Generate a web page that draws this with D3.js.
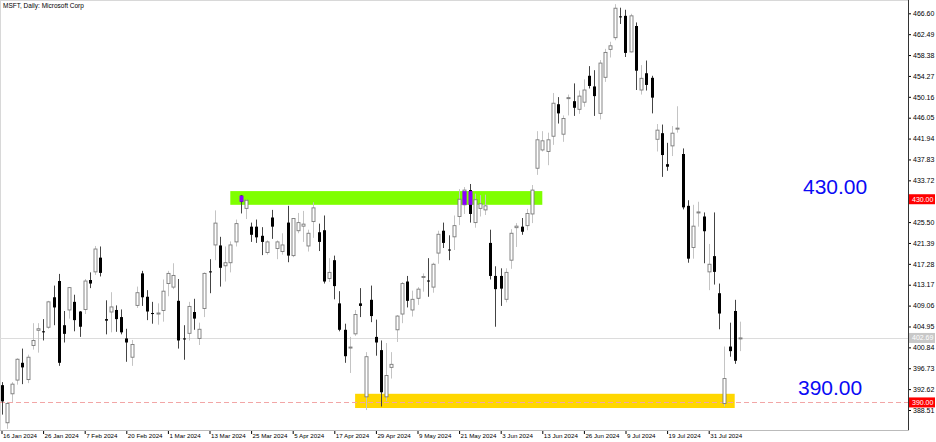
<!DOCTYPE html>
<html><head><meta charset="utf-8">
<script src="https://cdn.jsdelivr.net/npm/d3@7/dist/d3.min.js"></script>
<style>body{margin:0;background:#fff}svg{display:block}</style>
</head><body>
<svg id="chart" width="936" height="442"></svg>
<script>
// ---- data ----
const dates = ["2024-01-16","2024-01-17","2024-01-18","2024-01-19","2024-01-22","2024-01-23","2024-01-24","2024-01-25","2024-01-26","2024-01-29","2024-01-30","2024-01-31",
"2024-02-01","2024-02-02","2024-02-05","2024-02-06","2024-02-07","2024-02-08","2024-02-09","2024-02-12","2024-02-13","2024-02-14","2024-02-15","2024-02-16","2024-02-20","2024-02-21","2024-02-22","2024-02-23","2024-02-26","2024-02-27","2024-02-28","2024-02-29",
"2024-03-01","2024-03-04","2024-03-05","2024-03-06","2024-03-07","2024-03-08","2024-03-11","2024-03-12","2024-03-13","2024-03-14","2024-03-15","2024-03-18","2024-03-19","2024-03-20","2024-03-21","2024-03-22","2024-03-25","2024-03-26","2024-03-27","2024-03-28",
"2024-04-01","2024-04-02","2024-04-03","2024-04-04","2024-04-05","2024-04-08","2024-04-09","2024-04-10","2024-04-11","2024-04-12","2024-04-15","2024-04-16","2024-04-17","2024-04-18","2024-04-19","2024-04-22","2024-04-23","2024-04-24","2024-04-25","2024-04-26","2024-04-29","2024-04-30",
"2024-05-01","2024-05-02","2024-05-03","2024-05-06","2024-05-07","2024-05-08","2024-05-09","2024-05-10","2024-05-13","2024-05-14","2024-05-15","2024-05-16","2024-05-17","2024-05-20","2024-05-21","2024-05-22","2024-05-23","2024-05-24","2024-05-28","2024-05-29","2024-05-30","2024-05-31",
"2024-06-03","2024-06-04","2024-06-05","2024-06-06","2024-06-07","2024-06-10","2024-06-11","2024-06-12","2024-06-13","2024-06-14","2024-06-17","2024-06-18","2024-06-20","2024-06-21","2024-06-24","2024-06-25","2024-06-26","2024-06-27","2024-06-28",
"2024-07-01","2024-07-02","2024-07-03","2024-07-05","2024-07-08","2024-07-09","2024-07-10","2024-07-11","2024-07-12","2024-07-15","2024-07-16","2024-07-17","2024-07-18","2024-07-19","2024-07-22","2024-07-23","2024-07-24","2024-07-25","2024-07-26","2024-07-29","2024-07-30","2024-07-31",
"2024-08-01","2024-08-02","2024-08-05","2024-08-06","2024-08-07","2024-08-08"];

const opens = [393.4,386.0,391.7,394.4,397.8,394.5,401.2,404.2,404.0,404.8,410.7,413.9,
405.2,408.2,409.8,407.9,408.3,414.1,415.7,418.5,406.4,407.8,408.2,406.8,402.6,398.9,409.1,415.4,410.8,407.6,407.4,408.1,
413.4,412.7,410.0,402.6,403.6,407.8,402.6,408.5,415.8,421.0,420.9,416.9,417.5,421.6,430.7,428.2,424.6,424.6,422.8,419.5,
426.4,420.3,419.7,425.4,418.9,423.8,424.7,420.8,425.6,423.5,423.9,414.4,418.0,409.5,404.3,400.8,403.5,409.5,391.1,410.2,402.9,400.3,
391.1,396.9,404.3,407.4,413.8,408.2,410.5,414.6,414.0,412.7,419.4,423.8,420.1,422.6,426.6,428.9,431.8,425.4,428.2,427.9,421.4,414.9,
414.9,410.3,418.0,424.4,424.6,424.8,427.1,436.1,439.7,439.4,442.4,448.7,442.8,449.8,449.3,447.7,449.1,454.3,452.2,
446.9,454.0,459.5,461.8,466.0,466.1,459.0,464.1,451.5,454.8,453.9,441.8,443.0,436.9,440.5,443.8,438.9,428.7,420.5,427.3,426.6,415.7,
418.8,411.5,389.8,401.0,408.0,402.6];
const highs = [394.0,390.1,394.0,398.7,400.6,399.4,405.6,405.6,406.4,410.0,413.0,415.3,
408.0,412.7,411.2,408.0,414.3,415.6,420.8,420.7,410.1,411.7,409.1,408.3,404.5,402.3,412.8,415.9,412.1,409.8,409.5,414.2,
415.9,417.4,414.3,405.2,409.8,410.4,405.7,415.6,418.2,427.8,422.6,420.7,421.7,426.0,430.8,429.9,425.4,426.0,424.5,421.9,
427.9,421.9,423.3,428.7,426.2,427.3,427.7,424.0,429.4,425.2,426.8,418.4,418.9,411.9,405.5,402.9,408.2,412.5,399.9,413.0,406.3,402.2,
401.7,399.9,407.2,413.7,414.9,412.0,412.7,415.4,418.4,417.5,423.8,425.4,422.9,426.8,432.0,432.4,433.0,431.1,430.8,430.9,424.0,416.8,
416.4,416.4,424.1,425.3,426.3,428.1,432.8,443.4,443.4,443.1,450.9,450.1,446.5,450.6,452.8,451.4,453.6,456.2,455.4,
457.4,459.6,461.0,468.4,467.7,467.3,466.5,464.8,456.4,457.3,454.3,444.8,444.7,441.1,444.4,448.3,440.0,429.8,428.9,429.5,427.4,421.2,
427.4,413.4,401.0,405.7,410.2,405.9];
const lows = [387.6,384.8,390.1,393.5,393.6,393.8,400.4,399.8,402.2,404.5,405.2,397.2,
401.8,406.5,404.0,402.9,407.4,412.5,415.1,414.8,403.4,403.8,403.9,403.4,398.0,397.2,408.6,409.0,406.2,405.5,405.3,405.9,
410.9,412.3,400.6,398.4,402.2,404.3,401.3,406.8,411.5,418.0,412.8,413.8,415.6,420.7,427.2,426.1,421.6,421.4,419.0,419.1,
422.2,418.2,419.1,417.6,418.6,423.3,421.6,419.7,422.4,419.8,413.4,413.7,410.3,404.0,397.8,395.8,403.1,406.8,388.5,405.8,399.2,389.2,
390.3,394.7,401.9,405.6,408.7,406.9,409.2,411.8,410.8,411.6,417.3,420.4,418.0,420.0,424.9,427.1,425.4,424.4,426.6,426.9,414.2,404.9,
409.0,409.7,416.3,420.6,423.0,423.9,425.3,434.8,439.4,436.7,440.7,444.9,441.3,446.5,446.4,446.8,448.2,451.8,446.4,
445.7,453.1,457.9,461.3,464.5,458.0,458.9,451.5,450.6,451.4,446.9,439.4,434.4,435.6,438.5,443.1,428.0,417.5,418.3,424.6,417.4,412.1,
413.2,404.4,389.2,399.0,397.6,400.1];
const closes = [390.2,389.8,393.6,398.5,396.9,398.9,402.2,404.5,403.8,409.8,408.7,397.8,
403.5,412.6,406.2,404.9,413.9,413.4,420.2,415.5,406.1,408.8,406.4,403.8,401.8,401.4,411.6,410.7,407.9,407.4,407.6,411.9,
415.4,415.0,402.2,402.4,408.9,406.5,404.4,415.4,415.6,425.3,416.5,417.5,421.0,425.2,429.5,429.8,423.0,422.5,421.6,421.6,
424.6,421.6,421.0,418.9,426.2,425.4,425.1,423.3,428.3,421.6,413.8,415.6,412.9,404.3,399.1,400.9,407.3,409.0,399.0,407.0,401.8,392.0,
395.3,397.5,407.0,413.4,410.0,410.3,412.3,414.8,413.8,417.2,423.1,421.4,419.9,424.8,430.0,431.8,427.1,429.9,429.1,428.7,414.9,412.3,
412.4,415.6,423.3,424.7,423.6,427.2,431.8,441.7,441.5,441.7,448.9,446.9,445.9,450.0,448.0,450.3,451.5,452.3,450.3,
456.8,458.9,460.2,467.6,465.8,458.8,466.1,455.3,453.8,452.5,450.0,443.6,438.7,436.4,443.0,444.0,428.4,418.3,424.7,427.5,423.7,417.2,
415.7,407.5,394.7,400.1,398.2,402.7];

const highlightDates = ["2024-03-21","2024-05-22","2024-05-23"];
// 429.61 sits under the red 430.00 box in the reference, so it is not listed
const yTickValues = [466.60,462.49,458.38,454.27,450.16,446.05,441.94,437.83,433.72,425.50,421.39,417.28,413.17,409.06,404.95,400.84,396.73,392.62,388.51];
const xTickDates = ["2024-01-16","2024-01-26","2024-02-07","2024-02-20","2024-03-01","2024-03-13","2024-03-25","2024-04-05","2024-04-17","2024-04-29","2024-05-09","2024-05-21","2024-06-03","2024-06-13","2024-06-26","2024-07-09","2024-07-19","2024-07-31"];
const xTickLabels = ["16 Jan 2024","26 Jan 2024","7 Feb 2024","20 Feb 2024","1 Mar 2024","13 Mar 2024","25 Mar 2024","5 Apr 2024","17 Apr 2024","29 Apr 2024","9 May 2024","21 May 2024","3 Jun 2024","13 Jun 2024","26 Jun 2024","9 Jul 2024","19 Jul 2024","31 Jul 2024"];
const zoneNames = ["resistance","support"];
const zoneFrom = ["2024-03-19","2024-04-23"];
const zoneTo = ["2024-06-13","2024-08-07"];
const zoneHigh = [431.6,391.7];
const zoneLow = [428.9,388.9];
const levelValues = [430.00,390.00];
const levelLabels = ["430.00","390.00"];
const title = "MSFT, Daily:  Microsoft Corp";
const lastPrice = 402.69;

// ---- layout ----
const svg = d3.select("#chart");
const W = 936, H = 442, plotR = 908, plotB = 430;
const x = d3.scaleLinear().domain([0, dates.length - 1]).range([1.5, 1.5 + 5.2 * (dates.length - 1)]);
const y = d3.scaleLinear().domain([388.51, 466.60]).range([410, 13.3]);
const idx = d => dates.indexOf(d);
const font = "'Liberation Sans', Arial, sans-serif";

svg.append("rect").attr("width", W).attr("height", H).attr("fill", "#fff");

// frame
svg.append("line").attr("x1", 0.5).attr("x2", 0.5).attr("y1", 0).attr("y2", plotB).attr("stroke", "#d8d8d8");
svg.append("line").attr("x1", 0).attr("x2", plotR).attr("y1", 0.5).attr("y2", 0.5).attr("stroke", "#d8d8d8");

// zones
const zoneColors = ["#7fff00", "#ffd700"];
zoneNames.forEach((n, k) => {
  svg.append("rect").attr("class", "zone-" + n)
    .attr("x", x(idx(zoneFrom[k]))).attr("width", x(idx(zoneTo[k])) - x(idx(zoneFrom[k])))
    .attr("y", y(zoneHigh[k])).attr("height", y(zoneLow[k]) - y(zoneHigh[k]))
    .attr("fill", zoneColors[k]);
});

// last-price line and 390 dashed line
svg.append("line").attr("x1", 0).attr("x2", plotR).attr("y1", Math.round(y(lastPrice)) + 0.5).attr("y2", Math.round(y(lastPrice)) + 0.5)
  .attr("stroke", "#dcdcdc");
svg.append("line").attr("x1", 0).attr("x2", plotR).attr("y1", Math.round(y(levelValues[1])) + 0.5).attr("y2", Math.round(y(levelValues[1])) + 0.5)
  .attr("stroke", "#f2a6a6").attr("stroke-dasharray", "5,3");

// candles
const bars = dates.map((d, i) => ({d, i, o: opens[i], h: highs[i], l: lows[i], c: closes[i]}));
const bodyW = 3;
const g = svg.append("g").attr("class", "candles");
bars.forEach(b => {
  const cx = Math.round(x(b.i)) + 0.5;
  const up = b.c >= b.o;
  g.append("line").attr("x1", cx).attr("x2", cx).attr("y1", y(b.h)).attr("y2", y(b.l))
    .attr("stroke", up ? "#c4c4c4" : "#444").attr("stroke-width", 1);
  const top = y(Math.max(b.o, b.c)), bot = y(Math.min(b.o, b.c));
  const hgt = Math.max(1, bot - top);
  if (up) {
    g.append("rect").attr("x", cx - 1.5).attr("y", top).attr("width", bodyW).attr("height", hgt)
      .attr("fill", "#fff").attr("stroke", "#7a7a7a").attr("stroke-width", 0.9);
  } else {
    g.append("rect").attr("x", cx - 1.5).attr("y", top).attr("width", bodyW).attr("height", hgt).attr("fill", "#000");
  }
  if (highlightDates.includes(b.d)) {
    const zt = Math.max(top, y(zoneHigh[0])), zb = Math.min(top + hgt, y(zoneLow[0]));
    if (zb > zt) g.append("rect").attr("x", cx - 2).attr("y", zt).attr("width", 4).attr("height", zb - zt).attr("fill", "#8b00ff");
  }
});

// big level labels
svg.append("text").attr("x", 803).attr("y", y(levelValues[0]) - 5).text(levelLabels[0])
  .attr("font-family", font).attr("font-size", 21).attr("fill", "#0a0af5");
svg.append("text").attr("x", 798).attr("y", y(levelValues[1]) - 7).text(levelLabels[1])
  .attr("font-family", font).attr("font-size", 21).attr("fill", "#0a0af5");

// right axis
const yAxis = d3.axisRight(y).tickValues(yTickValues).tickSize(3).tickFormat(d3.format(".2f"));
const ya = svg.append("g").attr("transform", `translate(${plotR},0)`).call(yAxis);
ya.select(".domain").remove();
ya.selectAll("text").attr("font-family", font).attr("font-size", 7).attr("fill", "#000").attr("x", 5);
ya.selectAll(".tick line").attr("stroke", "#000");
svg.append("line").attr("x1", plotR + 0.5).attr("x2", plotR + 0.5).attr("y1", 0).attr("y2", plotB).attr("stroke", "#333");

// axis price boxes
function priceBox(v, label, bg) {
  const yy = y(v);
  svg.append("rect").attr("x", plotR + 1).attr("y", yy - 5).attr("width", 26).attr("height", 10).attr("fill", bg);
  svg.append("text").attr("x", plotR + 4).attr("y", yy + 2.5).text(label)
    .attr("font-family", font).attr("font-size", 7).attr("fill", "#fff");
}
priceBox(lastPrice, d3.format(".2f")(lastPrice), "#c8c8c8");
priceBox(levelValues[0], levelLabels[0], "#ff0000");
priceBox(levelValues[1], levelLabels[1], "#ff0000");

// bottom axis
const xAxis = d3.axisBottom(x).tickValues(xTickDates.map(idx)).tickSize(4)
  .tickFormat((d, k) => xTickLabels[k]);
const xa = svg.append("g").attr("transform", `translate(0,${plotB})`).call(xAxis);
xa.select(".domain").remove();
xa.selectAll(".tick line").attr("stroke", "#000");
xa.selectAll("text").attr("font-family", font).attr("font-size", 6.2).attr("fill", "#000")
  .attr("text-anchor", "start").attr("x", 1).attr("y", 4).attr("dy", "0.71em");
svg.append("line").attr("x1", 0).attr("x2", plotR + 1).attr("y1", plotB + 0.5).attr("y2", plotB + 0.5).attr("stroke", "#bbb");

// title
svg.append("text").attr("x", 3).attr("y", 8).text(title)
  .attr("font-family", font).attr("font-size", 6.5).attr("fill", "#000");
</script>
</body></html>
